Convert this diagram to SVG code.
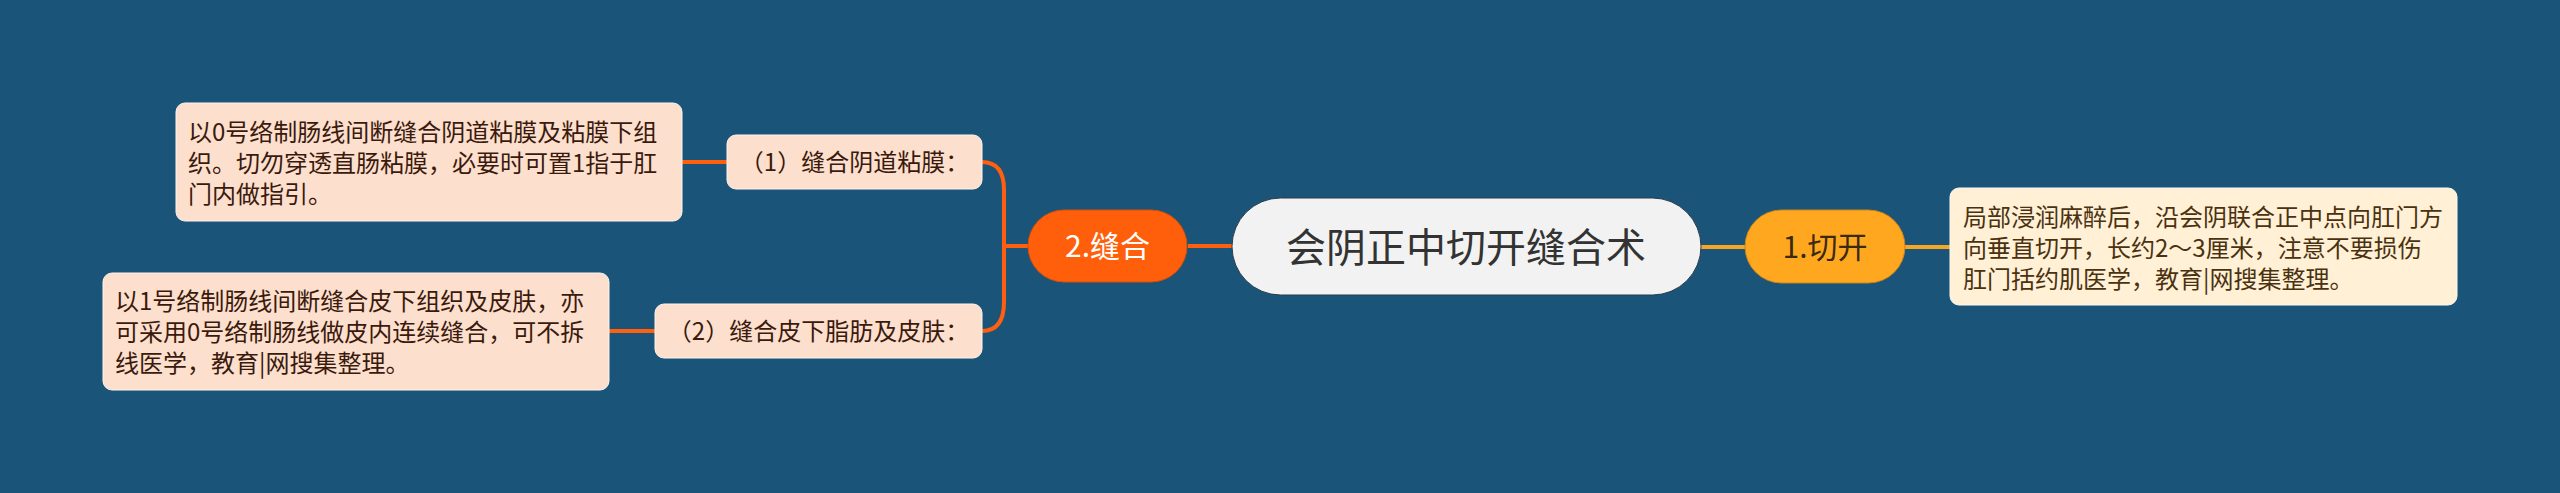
<svg xmlns="http://www.w3.org/2000/svg" width="2560" height="493" viewBox="0 0 2560 493">
<style>
text{font-family:"Noto Sans CJK SC","Noto Sans",sans-serif;}
.leafL{fill:#FDDFCE;stroke:#FFF3EC;stroke-width:1;}
.leafR{fill:#FFF0D6;stroke:#FFF8EC;stroke-width:1;}
.tL{font-size:24px;fill:#3A1A0C;}
.tR{font-size:24px;fill:#4A3210;}
.or{stroke:#FF5F0E;stroke-width:4;fill:none;}
.ye{stroke:#F6A623;stroke-width:4;fill:none;}
</style>
<rect width="2560" height="493" fill="#1A5478"/>
<g id="connectors">
<line class="ye" x1="1700" y1="247" x2="1746" y2="247"/>
<line class="ye" x1="1904" y1="247" x2="1951" y2="247"/>
<line class="or" x1="1188" y1="246" x2="1233" y2="246"/>
<path class="or" d="M1029,246 H1004 M982,162 C996,162 1004,170 1004,190 L1004,302 C1004,322 996,331 982,331"/>
<line class="or" x1="681" y1="162" x2="728" y2="162"/>
<line class="or" x1="608" y1="331" x2="656" y2="331"/>
</g>
<g id="root">
<rect x="1232" y="198" width="469" height="97" rx="48.5" fill="#F2F2F2" stroke="#2B3B48" stroke-width="1"/>
<text x="1466" y="262" font-size="40" fill="#333333" text-anchor="middle">会阴正中切开缝合术</text>
</g>
<g id="n1">
<rect x="1745" y="210" width="160" height="73" rx="36.5" fill="#FFA81F" stroke="#C9831A" stroke-width="1"/>
<text x="1825" y="258" font-size="30" fill="#3A2A10" text-anchor="middle">1.切开</text>
</g>
<g id="n1a">
<rect class="leafR" x="1950" y="188" width="507" height="117" rx="9"/>
<text class="tR" x="1963" y="226">局部浸润麻醉后，沿会阴联合正中点向肛门方</text>
<text class="tR" x="1963" y="257">向垂直切开，长约2～3厘米，注意不要损伤</text>
<text class="tR" x="1963" y="288">肛门括约肌医学，教育|网搜集整理。</text>
</g>
<g id="n2">
<rect x="1028" y="210" width="159" height="72" rx="36" fill="#FF5F0A" stroke="#D94E08" stroke-width="1"/>
<text x="1107.5" y="257" font-size="30" fill="#FFFFFF" text-anchor="middle">2.缝合</text>
</g>
<g id="n2a">
<rect class="leafL" x="727" y="135" width="255" height="54" rx="9"/>
<text class="tL" x="854.5" y="171" text-anchor="middle">（1）缝合阴道粘膜：</text>
</g>
<g id="n2b">
<rect class="leafL" x="655" y="304" width="327" height="54" rx="9"/>
<text class="tL" x="818.5" y="340" text-anchor="middle">（2）缝合皮下脂肪及皮肤：</text>
</g>
<g id="n2a1">
<rect class="leafL" x="176" y="103" width="506" height="118" rx="9"/>
<text class="tL" x="188" y="141">以0号络制肠线间断缝合阴道粘膜及粘膜下组</text>
<text class="tL" x="188" y="172">织。切勿穿透直肠粘膜，必要时可置1指于肛</text>
<text class="tL" x="188" y="203">门内做指引。</text>
</g>
<g id="n2b1">
<rect class="leafL" x="103" y="273" width="506" height="117" rx="9"/>
<text class="tL" x="115" y="310">以1号络制肠线间断缝合皮下组织及皮肤，亦</text>
<text class="tL" x="115" y="341">可采用0号络制肠线做皮内连续缝合，可不拆</text>
<text class="tL" x="115" y="372">线医学，教育|网搜集整理。</text>
</g>
</svg>
